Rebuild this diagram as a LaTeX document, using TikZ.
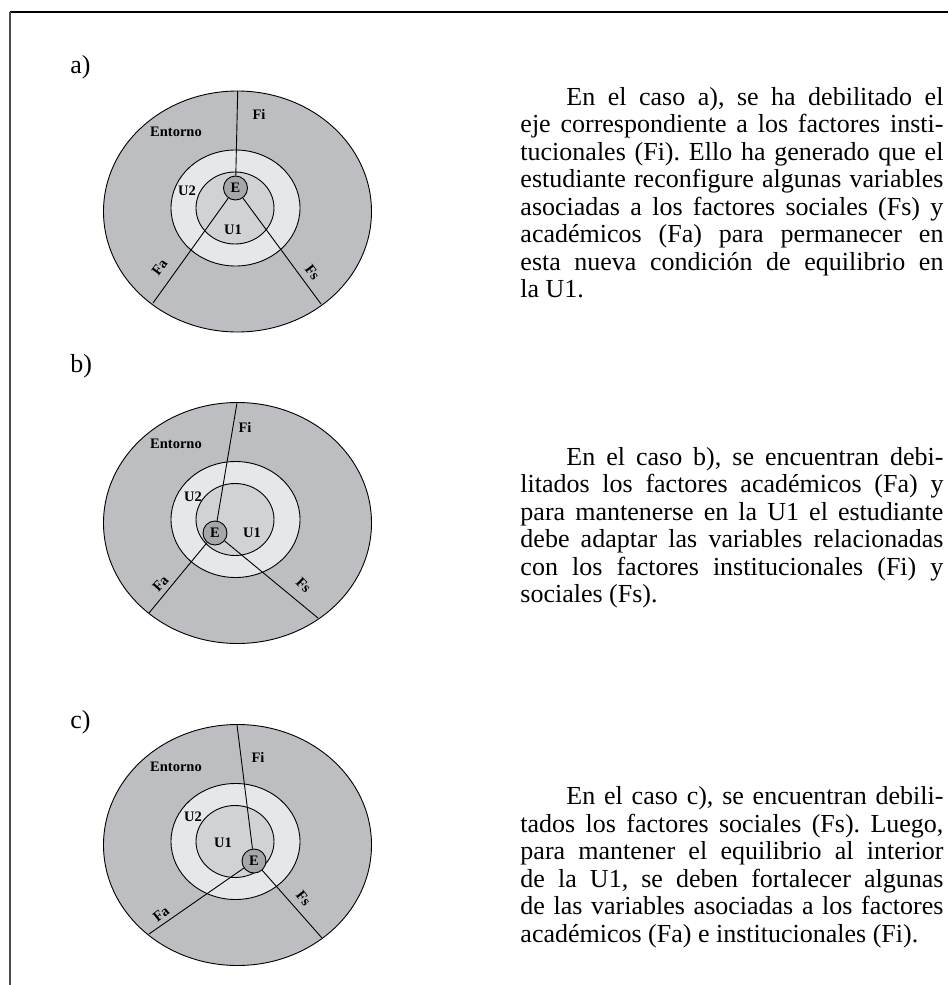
\documentclass[tikz,border=0pt]{standalone}
\usepackage{fontspec}
\setmainfont{Liberation Serif}
\usetikzlibrary{positioning}
\definecolor{outergray}{RGB}{189,190,193}
\definecolor{midgray}{RGB}{230,231,232}
\definecolor{innergray}{RGB}{209,210,212}
\definecolor{egray}{RGB}{166,167,170}
\tikzset{
    lbl/.style={font=\fontsize{14.5}{14.5}\selectfont\bfseries, inner sep=0pt},
    est/.style={circle, draw, fill=egray, minimum size=24pt, inner sep=0pt,
        font=\fontsize{14.5}{14.5}\selectfont\bfseries},
    casetag/.style={font=\fontsize{26}{26}\selectfont, anchor=base west, inner sep=0pt},
    para/.style={font=\fontsize{26}{27.5}\selectfont\frenchspacing, text width=423pt, align=justify,
        anchor=north west, inner sep=0pt}
}
\newcommand\drawrings[1]{
    \draw [fill=outergray] (237.5,#1) ellipse [x radius=134, y radius=120.5];
    \draw [fill=midgray] (235.5,#1-3.5) ellipse [x radius=64.5, y radius=58];
    \draw [fill=innergray] (235,#1-3.5) ellipse [x radius=39, y radius=36]}

\begin{document}
\begin{tikzpicture}[x=1pt,y=-1pt,line width=0.9pt]
    \useasboundingbox (0,0) rectangle (948,985);
    \draw [line width=1.2pt] (10,12) -- (948,12);
    \draw [line width=1.8pt, black!70] (10,12) -- (10,985);

    % caso a
    \node[casetag] (taga) at (70,73) {a)};
    \drawrings{211.5};
    \node[est] (Ea) at (235.5,188) {E};
    \coordinate (fia) at (237.7,91);
    \coordinate (faa) at (153,303);
    \coordinate (fsa) at (321,304);
    \draw (Ea) -- (fia);
    \draw (Ea) -- (faa);
    \draw (Ea) -- (fsa);
    \node[lbl] (lfia) at (259,114) {Fi};
    \node[lbl] (lena) at (176,132) {Entorno};
    \node[lbl] (lu2a) at (187,191) {U2};
    \node[lbl] (lu1a) at (233,230) {U1};
    \node[lbl, rotate=54] (lfaa) at (159.5,267) {Fa};
    \node[lbl, rotate=-53] (lfsa) at (312.5,272) {Fs};
    \node[para] (txta) at (520,87) {\hspace*{46pt}En el caso a), se ha debilitado el\linebreak
        eje correspondiente a los factores insti-\linebreak
        tucionales (Fi). Ello ha generado que el\linebreak
        estudiante reconfigure algunas variables\linebreak
        asociadas a los factores sociales (Fs) y\linebreak
        académicos (Fa) para permanecer en\linebreak
        esta nueva condición de equilibrio en\linebreak
        la U1.};

    % caso b
    \node[casetag] (tagb) at (70,372) {b)};
    \drawrings{523};
    \node[est] (Eb) at (215,533) {E};
    \coordinate (fib) at (237,403);
    \coordinate (fab) at (149,613);
    \coordinate (fsb) at (318,618);
    \draw (Eb) -- (fib);
    \draw (Eb) -- (fab);
    \draw (Eb) -- (fsb);
    \node[lbl] (lfib) at (245,427) {Fi};
    \node[lbl] (lenb) at (176,444) {Entorno};
    \node[lbl] (lu2b) at (193,497) {U2};
    \node[lbl] (lu1b) at (252,533) {U1};
    \node[lbl, rotate=48] (lfab) at (160.5,583.5) {Fa};
    \node[lbl, rotate=-45] (lfsb) at (303.5,585.5) {Fs};
    \node[para] (txtb) at (520,447) {\hspace*{46pt}En el caso b), se encuentran debi-\linebreak
        litados los factores académicos (Fa) y\linebreak
        para mantenerse en la U1 el estudiante\linebreak
        debe adaptar las variables relacionadas\linebreak
        con los factores institucionales (Fi) y\linebreak
        sociales (Fs).};

    % caso c
    \node[casetag] (tagc) at (70,728) {c)};
    \drawrings{845};
    \node[est] (Ec) at (254,861) {E};
    \coordinate (fic) at (237,725);
    \coordinate (fac) at (149,934);
    \coordinate (fsc) at (322,938);
    \draw (Ec) -- (fic);
    \draw (Ec) -- (fac);
    \draw (Ec) -- (fsc);
    \node[lbl] (lfic) at (258,757) {Fi};
    \node[lbl] (lenc) at (176,767) {Entorno};
    \node[lbl] (lu2c) at (193,817) {U2};
    \node[lbl] (lu1c) at (223,843) {U1};
    \node[lbl, rotate=38] (lfac) at (161,914) {Fa};
    \node[lbl, rotate=-52] (lfsc) at (303.5,898) {Fs};
    \node[para] (txtc) at (520,786) {\hspace*{46pt}En el caso c), se encuentran debili-\linebreak
        tados los factores sociales (Fs). Luego,\linebreak
        para mantener el equilibrio al interior\linebreak
        de la U1, se deben fortalecer algunas\linebreak
        de las variables asociadas a los factores\linebreak
        académicos (Fa) e institucionales (Fi).};
\end{tikzpicture}
\end{document}
